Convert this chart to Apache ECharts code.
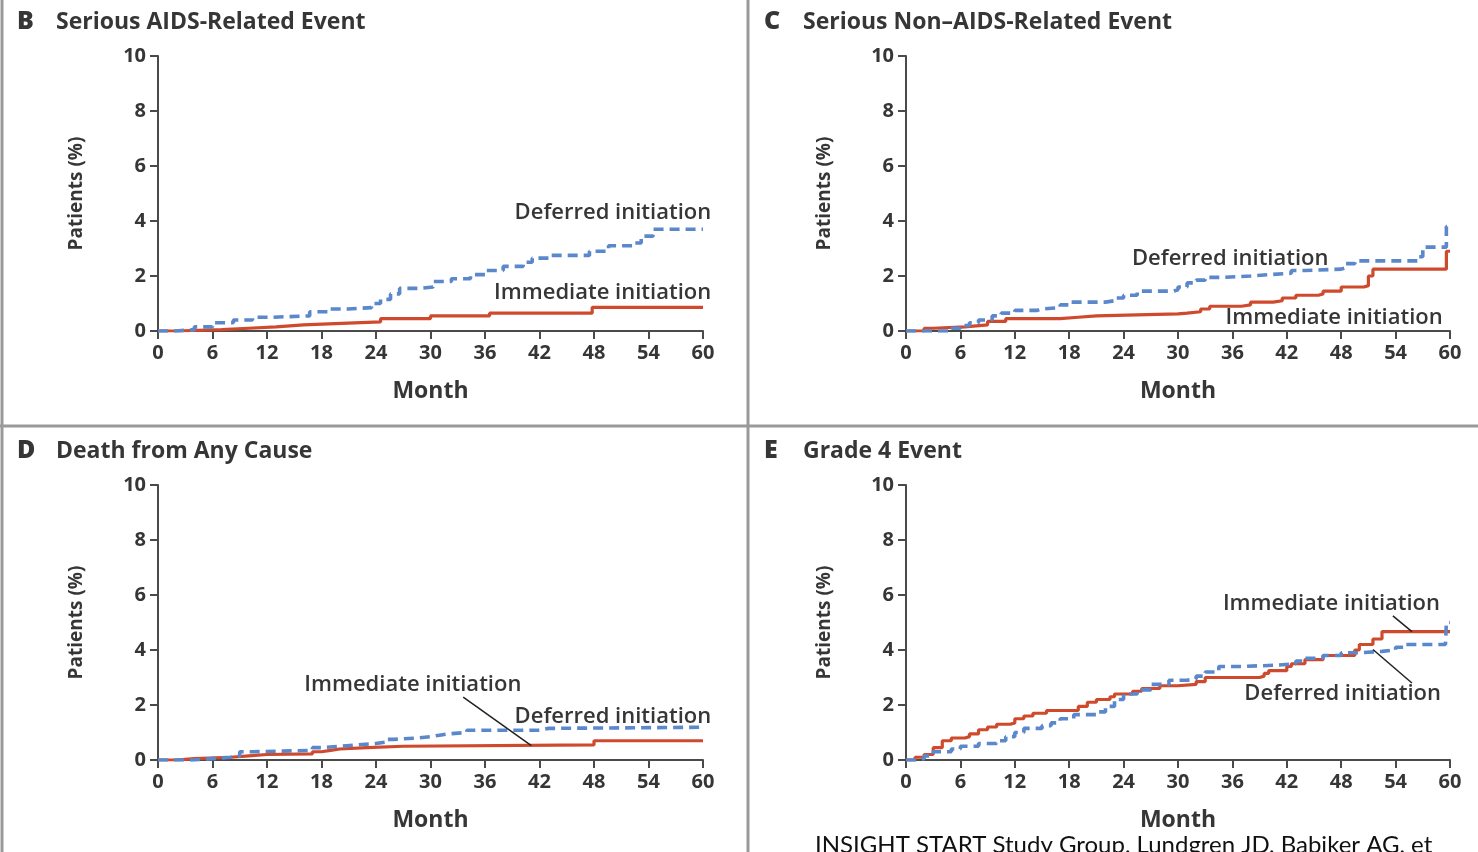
<!DOCTYPE html>
<html><head><meta charset="utf-8">
<script src="https://cdn.jsdelivr.net/npm/echarts@6/dist/echarts.min.js"></script>
<style>html,body{margin:0;padding:0;background:#fff}#c{width:1478px;height:852px}</style>
</head><body><div id="c"></div>
<script>
// ---------- DATA ----------
const xTicks = [0, 6, 12, 18, 24, 30, 36, 42, 48, 54, 60];
const yTicks = [0, 2, 4, 6, 8, 10];
const seriesNames = ['Immediate initiation', 'Deferred initiation'];
const panelLetters = ['B', 'C', 'D', 'E'];
const panelTitles = ['Serious AIDS-Related Event', 'Serious Non\u2013AIDS-Related Event', 'Death from Any Cause', 'Grade 4 Event'];

// Panel B – Serious AIDS-related event
const bImmMonth = [0, 2, 7, 10, 13, 16, 19.5, 24.5, 30, 36.5, 47.8, 60];
const bImmPct   = [0, 0.05, 0.1, 0.15, 0.22, 0.27, 0.33, 0.45, 0.55, 0.65, 0.86, 0.86];
const bDefMonth = [0, 2, 4, 6, 8.3, 10.4, 12.5, 16.7, 18.8, 20.9, 23.5, 24.5, 25.6, 26.6, 28.7, 30.3, 32.3, 34.4, 36, 38, 40.2, 41.2, 43, 47.5, 49.6, 52.2, 53.2, 54.5, 60];
const bDefPct   = [0, 0.05, 0.15, 0.3, 0.4, 0.5, 0.55, 0.7, 0.8, 0.85, 1.0, 1.15, 1.35, 1.55, 1.6, 1.8, 1.9, 2.05, 2.2, 2.35, 2.5, 2.65, 2.75, 2.9, 3.1, 3.2, 3.45, 3.7, 3.7];

// Panel C – Serious non-AIDS-related event
const cImmMonth = [0, 2, 3, 6.5, 9, 11, 17, 19, 21, 30, 31, 32.5, 33.5, 37, 38, 40.5, 41.5, 43, 45.5, 46, 48, 50.5, 51, 51.5, 59.6, 60];
const cImmPct   = [0, 0.1, 0.15, 0.22, 0.35, 0.45, 0.5, 0.55, 0.62, 0.65, 0.7, 0.8, 0.9, 0.95, 1.05, 1.1, 1.2, 1.3, 1.35, 1.45, 1.6, 1.65, 2.0, 2.25, 2.9, 2.9];
const cDefMonth = [0, 5, 6, 7, 8, 9.5, 10.5, 12, 14.5, 15, 17, 18, 22, 23, 24, 25.5, 29.5, 30, 31, 32, 33, 35, 38, 40, 42.5, 44, 48, 48.5, 49.5, 56.5, 57, 59.6, 60];
const cDefPct   = [0, 0.1, 0.2, 0.3, 0.4, 0.55, 0.65, 0.75, 0.8, 0.85, 0.95, 1.05, 1.1, 1.2, 1.3, 1.45, 1.5, 1.6, 1.75, 1.85, 1.95, 2.0, 2.05, 2.1, 2.2, 2.25, 2.3, 2.45, 2.55, 2.7, 3.05, 3.8, 3.8];

// Panel D – Death from any cause
const dImmMonth = [0, 2, 4, 8, 10, 12, 17, 18, 19, 20, 23, 27, 48, 60];
const dImmPct   = [0, 0.05, 0.1, 0.15, 0.2, 0.22, 0.3, 0.35, 0.4, 0.45, 0.5, 0.55, 0.7, 0.7];
const dDefMonth = [0, 4, 6, 8, 9, 10.5, 17, 18, 20, 22, 24, 25, 26, 28.5, 30, 31, 32, 34, 42, 43, 60];
const dDefPct   = [0, 0.05, 0.1, 0.15, 0.3, 0.35, 0.45, 0.5, 0.55, 0.6, 0.65, 0.75, 0.8, 0.85, 0.9, 0.95, 1.0, 1.08, 1.15, 1.19, 1.19];

// Panel E – Grade 4 event
const eImmMonth = [0, 1, 2, 3, 4, 5, 6.5, 7, 8, 9, 10, 11.5, 12, 13, 14, 15.5, 19, 20, 21, 22.5, 23, 25, 26, 28, 30, 32, 33, 39, 39.5, 40, 42, 42.5, 44, 46, 49.5, 50, 51.5, 52.5, 60];
const eImmPct   = [0, 0.1, 0.2, 0.45, 0.7, 0.8, 0.85, 0.95, 1.1, 1.2, 1.3, 1.35, 1.5, 1.6, 1.7, 1.8, 1.95, 2.1, 2.2, 2.3, 2.4, 2.5, 2.6, 2.7, 2.75, 2.85, 3.0, 3.05, 3.15, 3.25, 3.4, 3.5, 3.65, 3.8, 4.0, 4.2, 4.4, 4.67, 4.67];
const eDefMonth = [0, 1, 2, 3, 5, 6, 8, 10, 11, 12, 13, 15, 16, 17, 18.5, 21, 22, 23, 24, 25.5, 27, 29, 31, 32, 33, 34.5, 37, 41, 43, 44, 46, 48, 50, 52.5, 54, 55, 59.5, 59.6, 60];
const eDefPct   = [0, 0.05, 0.15, 0.3, 0.4, 0.5, 0.6, 0.7, 0.85, 1.0, 1.15, 1.25, 1.35, 1.5, 1.65, 1.75, 1.95, 2.2, 2.4, 2.55, 2.75, 2.9, 2.95, 3.05, 3.2, 3.4, 3.45, 3.5, 3.6, 3.7, 3.8, 3.9, 3.95, 4.0, 4.1, 4.2, 4.25, 5.0, 5.0];

// Annotation labels (data coordinates: month, percent) per panel
const annotations = [
  {panel: 0, text: 'Deferred initiation',  month: 60.9, pct: 4.29, align: 'right'},
  {panel: 0, text: 'Immediate initiation', month: 60.9, pct: 1.38, align: 'right'},
  {panel: 1, text: 'Deferred initiation',  month: 46.6, pct: 2.62, align: 'right'},
  {panel: 1, text: 'Immediate initiation', month: 59.2, pct: 0.47, align: 'right'},
  {panel: 2, text: 'Immediate initiation', month: 16.1, pct: 2.73, align: 'left'},
  {panel: 2, text: 'Deferred initiation',  month: 60.9, pct: 1.56, align: 'right'},
  {panel: 3, text: 'Immediate initiation', month: 58.9, pct: 5.67, align: 'right'},
  {panel: 3, text: 'Deferred initiation',  month: 59.0, pct: 2.40, align: 'right'}
];
// Leader lines: [panel, fromMonth, fromPct, toMonth, toPct]
const leaders = [
  [2, 33.6, 2.29, 41.1, 0.52],
  [3, 53.7, 5.24, 55.8, 4.67],
  [3, 55.8, 2.80, 51.5, 4.02]
];
const caption = 'INSIGHT START Study Group, Lundgren JD, Babiker AG, et';

// ---------- CHART ----------
const immMonths = [bImmMonth, cImmMonth, dImmMonth, eImmMonth];
const immPcts   = [bImmPct, cImmPct, dImmPct, eImmPct];
const defMonths = [bDefMonth, cDefMonth, dDefMonth, eDefMonth];
const defPcts   = [bDefPct, cDefPct, dDefPct, eDefPct];

const RED = '#cf4a2c', BLUE = '#5a88cb', INK = '#363636', AXIS = '#4a4a4a';
const FONT = '"Open Sans", "DejaVu Sans", sans-serif';

const grids = [
  {left: 158, right: 775, top: 56, bottom: 521},
  {left: 906, right: 28, top: 56, bottom: 521},
  {left: 158, right: 775, top: 485, bottom: 92},
  {left: 906, right: 28, top: 485, bottom: 92}
];

const zip = (xs, ys) => xs.map((x, i) => [x, ys[i]]);

const xAxes = [], yAxes = [], series = [];
for (let i = 0; i < 4; i++) {
  xAxes.push({
    gridIndex: i, type: 'value', min: xTicks[0], max: xTicks[xTicks.length - 1], interval: xTicks[1] - xTicks[0],
    name: 'Month', nameLocation: 'middle', nameGap: 49,
    nameTextStyle: {fontFamily: FONT, fontWeight: 'bold', fontSize: 23, color: INK},
    axisLine: {show: true, onZero: false, lineStyle: {color: AXIS, width: 2}},
    axisTick: {show: true, length: 8, lineStyle: {color: AXIS, width: 2}},
    axisLabel: {fontFamily: FONT, fontWeight: 'bold', fontSize: 20, color: INK, margin: 12},
    splitLine: {show: false}
  });
  yAxes.push({
    gridIndex: i, type: 'value', min: yTicks[0], max: yTicks[yTicks.length - 1], interval: yTicks[1] - yTicks[0],
    name: 'Patients (%)', nameLocation: 'middle', nameGap: 72, nameRotate: 90,
    nameTextStyle: {fontFamily: FONT, fontWeight: 'bold', fontSize: 19, color: INK},
    axisLine: {show: true, onZero: false, lineStyle: {color: AXIS, width: 2}},
    axisTick: {show: true, length: 8, lineStyle: {color: AXIS, width: 2}},
    axisLabel: {fontFamily: FONT, fontWeight: 'bold', fontSize: 20, color: INK, margin: 12},
    splitLine: {show: false}
  });
  series.push({
    name: seriesNames[0], type: 'line', step: 'end', xAxisIndex: i, yAxisIndex: i,
    data: zip(immMonths[i], immPcts[i]), showSymbol: false, symbol: 'none', z: 3,
    lineStyle: {color: RED, width: 3.2}, silent: true, animation: false
  });
  series.push({
    name: seriesNames[1], type: 'line', step: 'end', xAxisIndex: i, yAxisIndex: i,
    data: zip(defMonths[i], defPcts[i]), showSymbol: false, symbol: 'none', z: 4,
    lineStyle: {color: BLUE, width: 3.6, type: [10, 6]}, silent: true, animation: false
  });
}

const chart = echarts.init(document.getElementById('c'), null, {renderer: 'canvas'});
chart.setOption({
  backgroundColor: '#ffffff',
  animation: false,
  grid: grids,
  xAxis: xAxes,
  yAxis: yAxes,
  series: series
});

// ---------- Graphics: borders, titles, annotations, caption ----------
const g = [];
g.push({type: 'line', shape: {x1: 2, y1: 0, x2: 2, y2: 852}, style: {stroke: '#9a9a9a', lineWidth: 3}, silent: true});
g.push({type: 'line', shape: {x1: 748, y1: 0, x2: 748, y2: 852}, style: {stroke: '#9a9a9a', lineWidth: 3}, silent: true});
g.push({type: 'line', shape: {x1: 0, y1: 426, x2: 1478, y2: 426}, style: {stroke: '#9a9a9a', lineWidth: 3}, silent: true});

const titlePos = [[17, 22], [764, 22], [17, 451], [764, 451]];
for (let i = 0; i < 4; i++) {
  g.push({type: 'text', x: titlePos[i][0], y: titlePos[i][1], silent: true,
    style: {text: panelLetters[i], fontFamily: FONT, fontWeight: 800, fontSize: 25, fill: INK, verticalAlign: 'middle', align: 'left'}});
  g.push({type: 'text', x: titlePos[i][0] + 39, y: titlePos[i][1], silent: true,
    style: {text: panelTitles[i], fontFamily: FONT, fontWeight: 'bold', fontSize: 23, fill: INK, verticalAlign: 'middle', align: 'left'}});
}
annotations.forEach(a => {
  const p = chart.convertToPixel({gridIndex: a.panel}, [a.month, a.pct]);
  g.push({type: 'text', x: p[0], y: p[1], silent: true, z: 10,
    style: {text: a.text, fontFamily: FONT, fontWeight: 600, fontSize: 22, fill: INK, align: a.align, verticalAlign: 'middle'}});
});
leaders.forEach(l => {
  const p1 = chart.convertToPixel({gridIndex: l[0]}, [l[1], l[2]]);
  const p2 = chart.convertToPixel({gridIndex: l[0]}, [l[3], l[4]]);
  g.push({type: 'line', shape: {x1: p1[0], y1: p1[1], x2: p2[0], y2: p2[1]}, style: {stroke: '#222', lineWidth: 1.5}, silent: true, z: 10});
});
g.push({type: 'text', x: 815, y: 845, silent: true,
  style: {text: caption, fontFamily: 'Lato, "Open Sans", sans-serif', fontSize: 24, fill: '#111', align: 'left', verticalAlign: 'middle'}});

chart.setOption({graphic: g});
</script>
</body></html>
